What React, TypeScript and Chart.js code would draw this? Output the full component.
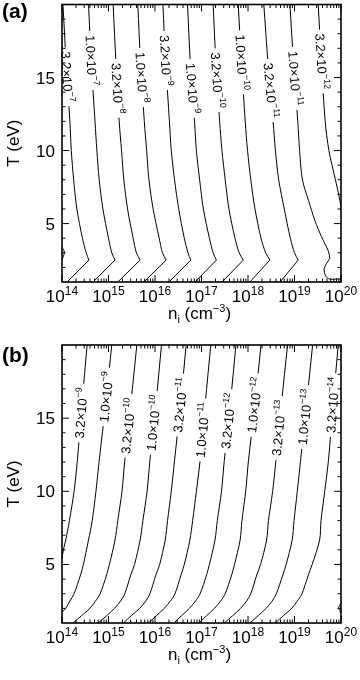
import React, { useEffect, useRef } from "react";
import { Chart, registerables } from "chart.js";
Chart.register(...registerables);

const FONT = '"Liberation Sans", Arial, Helvetica, sans-serif';

// ---------- Panel (a): contour lines, T (eV) vs log10 n_i ----------
const A_T = [20, 16, 12, 10, 8, 6, 4, 3, 2.5, 1];
const A_LOGN_1 = [14.02, 14.09, 14.17, 14.2, 14.25, 14.32, 14.44, 14.52, 14.58, 14.11];
const A_LOGN_2 = [14.57, 14.63, 14.71, 14.75, 14.8, 14.88, 15.0, 15.07, 15.14, 14.67];
const A_LOGN_3 = [15.1, 15.16, 15.23, 15.28, 15.33, 15.41, 15.53, 15.6, 15.68, 15.2];
const A_LOGN_4 = [15.63, 15.69, 15.77, 15.82, 15.87, 15.96, 16.09, 16.16, 16.24, 15.76];
const A_LOGN_5 = [16.17, 16.23, 16.31, 16.35, 16.42, 16.51, 16.63, 16.71, 16.77, 16.3];
const A_LOGN_6 = [16.7, 16.76, 16.85, 16.89, 16.96, 17.04, 17.17, 17.25, 17.32, 16.86];
const A_LOGN_7 = [17.25, 17.31, 17.39, 17.44, 17.51, 17.59, 17.72, 17.81, 17.9, 17.44];
const A_LOGN_8 = [17.79, 17.86, 17.94, 17.99, 18.06, 18.15, 18.28, 18.38, 18.47, 18.04];
const A_LOGN_9 = [18.34, 18.43, 18.54, 18.59, 18.66, 18.78, 18.91, 19.0, 19.08, 18.69];
const A_T_10 = [20, 16, 12, 10, 8, 6.6, 5.2, 4.1, 3.1, 2.62, 1.94, 1.4, 1.2, 1.22];
const A_LOGN_10 = [18.9, 18.98, 19.07, 19.11, 19.17, 19.3, 19.44, 19.58, 19.73, 19.76, 19.64, 19.67, 19.76, 20.0];
const A_T_11 = [20, 16, 12, 10, 8, 7, 6.15];
const A_LOGN_11 = [19.51, 19.58, 19.66, 19.74, 19.88, 19.95, 20.0];
const A_T_0 = [3.4, 3.05, 2.75, 2.5];
const A_LOGN_0 = [14.0, 14.05, 14.03, 14.0];

const A_LABEL_MANT = ["3.2×10", "1.0×10", "3.2×10", "1.0×10", "3.2×10", "1.0×10", "3.2×10", "1.0×10", "3.2×10", "1.0×10", "3.2×10"];
const A_LABEL_EXP = ["−7", "−7", "−8", "−8", "−9", "−9", "−10", "−10", "−11", "−11", "−12"];
const A_LABEL_T = [15.05, 16.17, 14.26, 15.01, 16.17, 14.26, 14.81, 16.04, 14.12, 14.94, 16.1];

// ---------- Panel (b) ----------
const B_T = [20, 16, 12.1, 10, 8, 6.67, 5, 4.3, 3, 2.5, 2, 1.5, 1];
const B_T_1 = [20, 16, 12.1, 10, 8, 6.67, 6, 5.4];
const B_LOGN_1 = [14.54, 14.43, 14.33, 14.26, 14.16, 14.08, 14.03, 14.0];
const B_T_2 = [20, 16, 12.1, 10, 8, 6.67, 5, 4.3, 3, 2.5, 2, 1.75];
const B_LOGN_2 = [15.07, 14.94, 14.8, 14.73, 14.65, 14.57, 14.46, 14.4, 14.26, 14.17, 14.08, 14.0];
const B_LOGN_3 = [15.61, 15.48, 15.35, 15.29, 15.2, 15.14, 15.02, 14.96, 14.82, 14.72, 14.6, 14.42, 14.24];
const B_LOGN_4 = [16.14, 16.02, 15.89, 15.83, 15.74, 15.68, 15.56, 15.48, 15.35, 15.26, 15.13, 14.96, 14.78];
const B_LOGN_5 = [16.67, 16.55, 16.42, 16.35, 16.27, 16.22, 16.1, 16.02, 15.89, 15.8, 15.67, 15.49, 15.32];
const B_LOGN_6 = [17.2, 17.08, 16.97, 16.89, 16.81, 16.75, 16.63, 16.56, 16.43, 16.33, 16.2, 16.03, 15.86];
const B_LOGN_7 = [17.74, 17.62, 17.49, 17.43, 17.34, 17.29, 17.17, 17.11, 16.97, 16.87, 16.74, 16.57, 16.41];
const B_LOGN_8 = [18.28, 18.15, 18.01, 17.95, 17.87, 17.83, 17.71, 17.65, 17.51, 17.41, 17.28, 17.11, 16.95];
const B_LOGN_9 = [18.85, 18.72, 18.6, 18.53, 18.44, 18.4, 18.27, 18.19, 18.06, 17.97, 17.84, 17.67, 17.49];
const B_LOGN_10 = [19.39, 19.26, 19.13, 19.06, 18.99, 18.95, 18.82, 18.75, 18.61, 18.52, 18.39, 18.22, 18.04];
const B_LOGN_11 = [19.94, 19.83, 19.73, 19.65, 19.57, 19.54, 19.38, 19.3, 19.16, 19.06, 18.94, 18.76, 18.59];
const B_T_12 = [2.37, 2.03, 1.68];
const B_LOGN_12 = [20.0, 19.95, 20.0];

const B_LABEL_MANT = ["3.2×10", "1.0×10", "3.2×10", "1.0×10", "3.2×10", "1.0×10", "3.2×10", "1.0×10", "3.2×10", "1.0×10", "3.2×10"];
const B_LABEL_EXP = ["−9", "−9", "−10", "−10", "−11", "−11", "−12", "−12", "−13", "−13", "−14"];
const B_LABEL_T = [15.35, 16.45, 14.47, 14.67, 15.9, 14.19, 14.8, 15.9, 14.33, 15.08, 15.9];

const X_TICK_EXP = [14, 15, 16, 17, 18, 19, 20];
const Y_TICKS = [5, 10, 15];
const T_MIN = 1;
const T_MAX = 20;

type Contour = { T: number[]; logN: number[]; split?: number; tailTension?: number };

type Panel = {
  tag: string;
  tagY: number;
  labelled: Contour[];
  extra: Contour[];
  mant: string[];
  exp: string[];
  labelT: number[];
  down: boolean;
  padTop: number;
  padBottom: number;
};

const PANEL_A: Panel = {
  tag: "(a)",
  tagY: 17.5,
  labelled: [
    { T: A_T, logN: A_LOGN_1, split: 8 },
    { T: A_T, logN: A_LOGN_2, split: 8 },
    { T: A_T, logN: A_LOGN_3, split: 8 },
    { T: A_T, logN: A_LOGN_4, split: 8 },
    { T: A_T, logN: A_LOGN_5, split: 8 },
    { T: A_T, logN: A_LOGN_6, split: 8 },
    { T: A_T, logN: A_LOGN_7, split: 8 },
    { T: A_T, logN: A_LOGN_8, split: 8 },
    { T: A_T, logN: A_LOGN_9, split: 8 },
    { T: A_T_10, logN: A_LOGN_10, split: 9, tailTension: 0.3 },
    { T: A_T_11, logN: A_LOGN_11 },
  ],
  extra: [{ T: A_T_0, logN: A_LOGN_0 }],
  mant: A_LABEL_MANT,
  exp: A_LABEL_EXP,
  labelT: A_LABEL_T,
  down: true,
  padTop: 4.5,
  padBottom: 58,
};

const PANEL_B: Panel = {
  tag: "(b)",
  tagY: 21.5,
  labelled: [
    { T: B_T_1, logN: B_LOGN_1 },
    { T: B_T_2, logN: B_LOGN_2 },
    { T: B_T, logN: B_LOGN_3 },
    { T: B_T, logN: B_LOGN_4 },
    { T: B_T, logN: B_LOGN_5 },
    { T: B_T, logN: B_LOGN_6 },
    { T: B_T, logN: B_LOGN_7 },
    { T: B_T, logN: B_LOGN_8 },
    { T: B_T, logN: B_LOGN_9 },
    { T: B_T, logN: B_LOGN_10 },
    { T: B_T, logN: B_LOGN_11 },
  ],
  extra: [{ T: B_T_12, logN: B_LOGN_12 }],
  mant: B_LABEL_MANT,
  exp: B_LABEL_EXP,
  labelT: B_LABEL_T,
  down: false,
  padTop: 5,
  padBottom: 57,
};

function buildDatasets(contours: Contour[]) {
  const ds: any[] = [];
  contours.forEach((c) => {
    const pts = c.T.map((t, i) => ({ x: Math.pow(10, c.logN[i]), y: t }));
    const base = { borderColor: "#000", borderWidth: 1, pointRadius: 0, fill: false };
    if (c.split !== undefined) {
      ds.push({ ...base, data: pts.slice(0, c.split + 1), tension: 0.3 });
      ds.push({ ...base, data: pts.slice(c.split), tension: c.tailTension ?? 0 });
    } else {
      ds.push({ ...base, data: pts, tension: 0.3 });
    }
  });
  return ds;
}

type Seg = { t: string; size: number; dy: number; bold?: boolean };

function drawRich(ctx: CanvasRenderingContext2D, segs: Seg[], x: number, y: number, align: "center" | "left") {
  let w = 0;
  const ws = segs.map((s) => {
    ctx.font = `${s.bold ? "bold " : ""}${s.size}px ${FONT}`;
    const m = ctx.measureText(s.t).width;
    w += m;
    return m;
  });
  let cx = align === "center" ? x - w / 2 : x;
  ctx.textAlign = "left";
  ctx.textBaseline = "alphabetic";
  segs.forEach((s, i) => {
    ctx.font = `${s.bold ? "bold " : ""}${s.size}px ${FONT}`;
    ctx.fillText(s.t, cx, y + s.dy);
    cx += ws[i];
  });
}

function drawContourLabel(ctx: CanvasRenderingContext2D, x: number, y: number, ang: number, mant: string, exp: string) {
  ctx.save();
  ctx.translate(x, y);
  ctx.rotate(ang);
  ctx.font = `13px ${FONT}`;
  const w1 = ctx.measureText(mant).width;
  ctx.font = `9px ${FONT}`;
  const w2 = ctx.measureText(exp).width;
  const w = w1 + w2 + 0.5;
  ctx.fillStyle = "#fff";
  ctx.fillRect(-w / 2 - 4, -9, w + 8, 15);
  ctx.fillStyle = "#000";
  ctx.textAlign = "left";
  ctx.textBaseline = "alphabetic";
  ctx.font = `13px ${FONT}`;
  ctx.fillText(mant, -w / 2, 4.5);
  ctx.font = `9px ${FONT}`;
  ctx.fillText(exp, -w / 2 + w1 + 0.5, -1.5);
  ctx.restore();
}

function overlayPlugin(p: Panel) {
  return {
    id: "overlay",
    afterDraw(chart: any) {
      const ctx: CanvasRenderingContext2D = chart.ctx;
      const ca = chart.chartArea;
      const xs = chart.scales.x;
      const ys = chart.scales.y;
      ctx.save();

      // contour labels
      p.labelled.forEach((c, i) => {
        const t = p.labelT[i];
        const px = c.T.map((tt, j) => [xs.getPixelForValue(Math.pow(10, c.logN[j])), ys.getPixelForValue(tt)]);
        let j = 0;
        while (j < c.T.length - 2 && !(c.T[j] >= t && c.T[j + 1] <= t)) j++;
        const f = (c.T[j] - t) / (c.T[j] - c.T[j + 1]);
        const x = px[j][0] + f * (px[j + 1][0] - px[j][0]);
        const y = px[j][1] + f * (px[j + 1][1] - px[j][1]);
        const ang = p.down
          ? Math.atan2(px[j + 1][1] - px[j][1], px[j + 1][0] - px[j][0])
          : Math.atan2(px[j][1] - px[j + 1][1], px[j][0] - px[j + 1][0]);
        drawContourLabel(ctx, x, y, ang, p.mant[i], p.exp[i]);
      });

      ctx.strokeStyle = "#000";
      ctx.fillStyle = "#000";

      // ticks
      ctx.lineWidth = 1;
      ctx.beginPath();
      X_TICK_EXP.forEach((d) => {
        for (let k = 1; k <= 9; k++) {
          if (d === 20 && k > 1) break;
          const xp = xs.getPixelForValue(k * Math.pow(10, d));
          const len = k === 1 ? 7 : 3.5;
          ctx.moveTo(xp, ca.bottom);
          ctx.lineTo(xp, ca.bottom - len);
          ctx.moveTo(xp, ca.top);
          ctx.lineTo(xp, ca.top + len);
        }
      });
      for (let t = T_MIN + 1; t < T_MAX; t++) {
        const yp = ys.getPixelForValue(t);
        const len = Y_TICKS.includes(t) ? 7 : 3.5;
        ctx.moveTo(ca.left, yp);
        ctx.lineTo(ca.left + len, yp);
        ctx.moveTo(ca.right, yp);
        ctx.lineTo(ca.right - len, yp);
      }
      ctx.stroke();

      // frame
      ctx.lineWidth = 1.6;
      ctx.strokeRect(ca.left, ca.top, ca.right - ca.left, ca.bottom - ca.top);

      // x tick labels
      X_TICK_EXP.forEach((d) => {
        const xp = xs.getPixelForValue(Math.pow(10, d));
        drawRich(ctx, [
          { t: "10", size: 17, dy: 0 },
          { t: String(d), size: 12, dy: -7 },
        ], xp, ca.bottom + 20, "center");
      });

      // y tick labels
      ctx.font = `17px ${FONT}`;
      ctx.textAlign = "right";
      ctx.textBaseline = "alphabetic";
      Y_TICKS.forEach((t) => {
        ctx.fillText(String(t), ca.left - 7, ys.getPixelForValue(t) + 6);
      });

      // x title
      drawRich(ctx, [
        { t: "n", size: 17, dy: 0 },
        { t: "i", size: 11, dy: 4 },
        { t: " (cm", size: 17, dy: 0 },
        { t: "−3", size: 11, dy: -7.5 },
        { t: ")", size: 17, dy: 0 },
      ], (ca.left + ca.right) / 2 - 2, ca.bottom + 37, "center");

      // y title
      ctx.save();
      ctx.translate(14, (ca.top + ca.bottom) / 2);
      ctx.rotate(-Math.PI / 2);
      ctx.font = `17px ${FONT}`;
      ctx.textAlign = "center";
      ctx.textBaseline = "middle";
      ctx.fillText("T (eV)", 0, 0);
      ctx.restore();

      // panel tag
      ctx.font = `bold 21px ${FONT}`;
      ctx.textAlign = "left";
      ctx.textBaseline = "alphabetic";
      ctx.fillText(p.tag, 2, p.tagY);

      ctx.restore();
    },
  };
}

function buildConfig(p: Panel): any {
  return {
    type: "line",
    data: { datasets: buildDatasets([...p.labelled, ...p.extra]) },
    options: {
      responsive: false,
      animation: false,
      devicePixelRatio: 1,
      events: [],
      layout: { padding: { left: 62, right: 19, top: p.padTop, bottom: p.padBottom } },
      plugins: { legend: { display: false }, tooltip: { enabled: false }, title: { display: false } },
      scales: {
        x: { type: "logarithmic", min: 1e14, max: 1e20, display: false },
        y: { type: "linear", min: T_MIN, max: T_MAX, display: false },
      },
    },
    plugins: [
      {
        id: "whiteBg",
        beforeDraw(chart: any) {
          const c = chart.ctx;
          c.save();
          c.fillStyle = "#fff";
          c.fillRect(0, 0, chart.width, chart.height);
          c.restore();
        },
      },
      overlayPlugin(p),
    ],
  };
}

export default function App() {
  const refA = useRef<HTMLCanvasElement>(null);
  const refB = useRef<HTMLCanvasElement>(null);
  useEffect(() => {
    const a = new Chart(refA.current as HTMLCanvasElement, buildConfig(PANEL_A));
    const b = new Chart(refB.current as HTMLCanvasElement, buildConfig(PANEL_B));
    return () => {
      a.destroy();
      b.destroy();
    };
  }, []);
  return (
    <div style={{ position: "fixed", left: 0, top: 0, width: 360, height: 680, background: "#fff" }}>
      <canvas ref={refA} width={360} height={340} style={{ display: "block", width: 360, height: 340 }} />
      <canvas ref={refB} width={360} height={340} style={{ display: "block", width: 360, height: 340 }} />
    </div>
  );
}
